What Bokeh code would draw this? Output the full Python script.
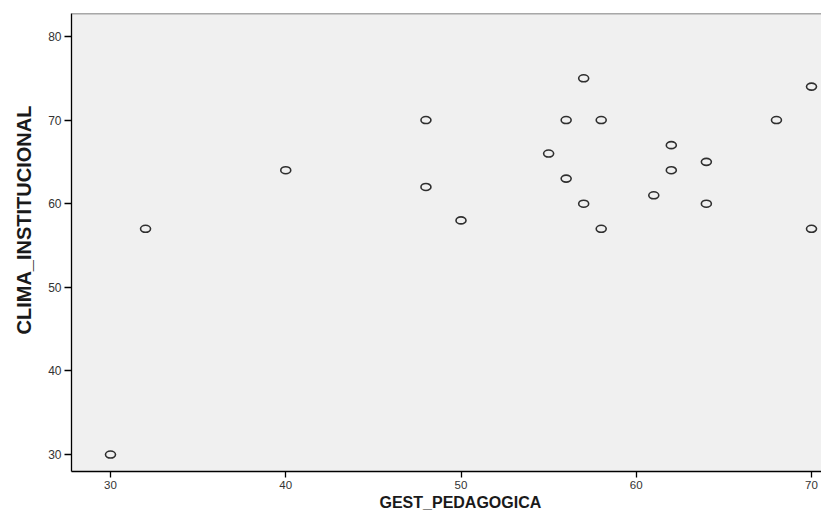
from bokeh.plotting import figure
from bokeh.models import Range1d, FixedTicker, Span, Title
from bokeh.embed import file_html
from bokeh.resources import INLINE

# data: GEST_PEDAGOGICA vs CLIMA_INSTITUCIONAL
gest_pedagogica = [30, 32, 40, 48, 48, 50, 55, 56, 56, 57, 57, 58, 58, 61, 62, 62, 64, 64, 68, 70, 70]
clima_institucional = [30, 57, 64, 70, 62, 58, 66, 70, 63, 75, 60, 70, 57, 61, 67, 64, 65, 60, 70, 74, 57]
x_ticks = [30, 40, 50, 60, 70]
y_ticks = [30, 40, 50, 60, 70, 80]
x_label = "GEST_PEDAGOGICA"
y_label = "CLIMA_INSTITUCIONAL"

FONT = "Liberation Sans"

p = figure(width=821, height=510, output_backend="svg", toolbar_location=None,
           x_range=Range1d(27.775, 70.57), y_range=Range1d(27.97, 82.745),
           min_border_left=71, min_border_top=13, min_border_bottom=38, min_border_right=0)

p.background_fill_color = "#F0F0F0"
p.border_fill_color = "white"
p.outline_line_color = None
p.grid.visible = False

p.ellipse(x=gest_pedagogica, y=clima_institucional, width=10, height=7,
          width_units="screen", height_units="screen",
          fill_color=None, line_color="#2f2f2f", line_width=1.6)

top = Span(location=82.745, dimension="width", line_color="#5a5a5a", line_width=1.5)
p.add_layout(top)

for ax in (p.xaxis[0], p.yaxis[0]):
    ax.axis_line_color = "black"
    ax.axis_line_width = 1.3
    ax.major_tick_line_color = "black"
    ax.major_tick_line_width = 1.3
    ax.major_tick_in = 0
    ax.minor_tick_line_color = None
    ax.major_label_text_font = FONT
    ax.major_label_text_color = "#333333"

p.xaxis.ticker = FixedTicker(ticks=x_ticks)
p.yaxis.ticker = FixedTicker(ticks=y_ticks)

p.xaxis.major_tick_out = 6
p.xaxis.major_label_standoff = 3
p.xaxis.major_label_text_font_size = "11.5px"

p.yaxis.major_tick_out = 7
p.yaxis.major_label_standoff = 3
p.yaxis.major_label_text_font_size = "12px"

xt = Title(text=x_label, align="left", offset=308, standoff=0,
           text_font=FONT, text_font_style="bold", text_font_size="16px",
           text_color="#1a1a1a")
yt = Title(text=y_label, align="left", offset=137, standoff=21,
           text_font=FONT, text_font_style="bold", text_font_size="20px",
           text_color="#1a1a1a")
p.add_layout(xt, "below")
p.add_layout(yt, "left")

open("out.html", "w").write(file_html(p, INLINE))
